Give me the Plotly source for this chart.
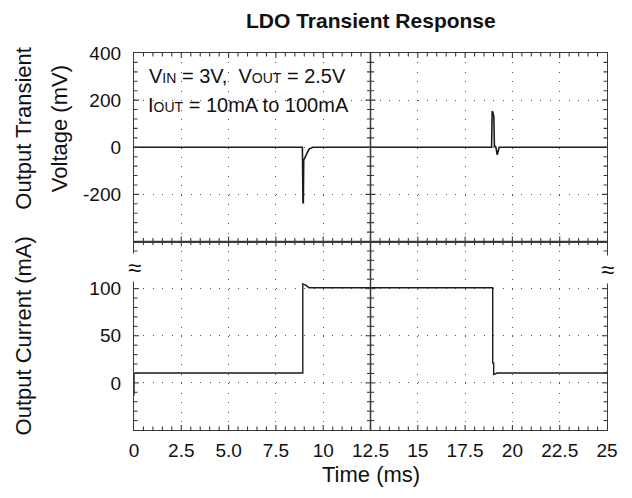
import plotly.graph_objects as go

# ---------------- data ----------------
t_volt = [0, 8.90, 8.93, 8.95, 8.97, 9.10, 9.25, 9.45, 18.90, 18.93, 18.96, 19.02, 19.05, 19.08, 19.13, 19.20, 19.30, 25]
v_out = [0, 0, -235, -235, -55, -30, -8, 0, 0, 153, 150, 130, 0, 6, 0, -32, 0, 0]

t_curr = [0, 0, 0.05, 8.92, 8.92, 9.05, 9.25, 18.96, 18.96, 19.01, 19.01, 19.2, 25, 25]
i_out = [-13, 9, 10.5, 10.5, 105, 104, 101, 101, 21, 21, 9, 10.5, 10.5, 12]

x_tickvals = [0, 2.5, 5, 7.5, 10, 12.5, 15, 17.5, 20, 22.5, 25]
x_ticktext = ["0", "2.5", "5.0", "7.5", "10", "12.5", "15", "17.5", "20", "22.5", "25"]
v_tickvals = [400, 200, 0, -200]
v_ticktext = ["400", "200", "0", "-200"]
i_tickvals = [100, 50, 0]
i_ticktext = ["100", "50", "0"]

V_RANGE = [-400, 400]
I_RANGE = [-50, 150]
X_RANGE = [0, 25]

FONT = "Liberation Sans, Arial, sans-serif"
TRACE = "#1a1a1a"
FRAME = "#3a3a3a"
GRID = "#555555"

fig = go.Figure()
fig.add_trace(go.Scatter(x=t_volt, y=v_out, mode="lines", xaxis="x2", yaxis="y2",
                         line=dict(color=TRACE, width=1.6), hoverinfo="skip", showlegend=False))
fig.add_trace(go.Scatter(x=t_curr, y=i_out, mode="lines", xaxis="x", yaxis="y",
                         line=dict(color=TRACE, width=1.4), hoverinfo="skip", showlegend=False))

grid_common = dict(showgrid=True, gridcolor=GRID, gridwidth=1, griddash="1px,8.45px",
                   zeroline=False, showline=True, linecolor=FRAME, linewidth=1.3, mirror=True,
                   automargin=False,
                   ticks="", tickfont=dict(family=FONT, size=19, color="#111"))

# page body has an 8px margin: figure sized to fit inside the 632x498 window
fig.update_layout(
    width=616, height=482, autosize=False,
    margin=dict(l=126, r=17, t=45, b=60),
    plot_bgcolor="white", paper_bgcolor="white",
    font=dict(family=FONT, color="#111"),
    xaxis=dict(domain=[0, 1], anchor="y", range=X_RANGE, tickvals=x_tickvals, ticktext=x_ticktext,
               ticklabelstandoff=3, **grid_common),
    xaxis2=dict(domain=[0, 1], anchor="y2", range=X_RANGE, matches="x", tickvals=x_tickvals,
                showticklabels=False, **grid_common),
    yaxis=dict(domain=[0, 0.5], anchor="x", range=I_RANGE, tickvals=i_tickvals, ticktext=i_ticktext,
               ticklabelstandoff=8, **grid_common),
    yaxis2=dict(domain=[0.5, 1], anchor="x2", range=V_RANGE, tickvals=v_tickvals, ticktext=v_ticktext,
                ticklabelstandoff=8, **grid_common),
)

# ---------------- oscilloscope-style tick marks ----------------
shapes = []
tick_line = dict(color=FRAME, width=1.1)
shapes.append(dict(type="line", xref="x", yref="paper", x0=12.5, x1=12.5, y0=0, y1=1,
                   line=dict(color=FRAME, width=1.5)))
shapes.append(dict(type="line", xref="paper", yref="paper", x0=0, x1=1, y0=0.5, y1=0.5,
                   line=dict(color=FRAME, width=1.5)))
n_x = 50
for k in range(1, n_x):
    t = X_RANGE[0] + k * (X_RANGE[1] - X_RANGE[0]) / n_x
    L = 5 if k % 5 == 0 else 3.5
    shapes.append(dict(type="line", xref="x", yref="paper", ysizemode="pixel", yanchor=1,
                       x0=t, x1=t, y0=-L, y1=0, line=tick_line))
    shapes.append(dict(type="line", xref="x", yref="paper", ysizemode="pixel", yanchor=0,
                       x0=t, x1=t, y0=0, y1=L, line=tick_line))
    shapes.append(dict(type="line", xref="x", yref="paper", ysizemode="pixel", yanchor=0.5,
                       x0=t, x1=t, y0=-L, y1=L, line=tick_line))
for yref, rng in (("y2", V_RANGE), ("y", I_RANGE)):
    for k in range(1, 20):
        yv = rng[0] + k * (rng[1] - rng[0]) / 20
        L = 5 if k % 5 == 0 else 3.5
        shapes.append(dict(type="line", xref="paper", yref=yref, xsizemode="pixel", xanchor=0,
                           x0=0, x1=L, y0=yv, y1=yv, line=tick_line))
        shapes.append(dict(type="line", xref="paper", yref=yref, xsizemode="pixel", xanchor=1,
                           x0=-L, x1=0, y0=yv, y1=yv, line=tick_line))
        shapes.append(dict(type="line", xref="x", yref=yref, xsizemode="pixel", xanchor=12.5,
                           x0=-L, x1=L, y0=yv, y1=yv, line=tick_line))
fig.update_layout(shapes=shapes)

# ---------------- text ----------------
def ann(text, x, y, size, **kw):
    d = dict(text=text, x=x, y=y, xref="paper", yref="paper", showarrow=False,
             font=dict(family=FONT, size=size, color="#111"))
    d.update(kw)
    fig.add_annotation(**d)

sub = '<span style="font-size:14px">{}</span>'
ann("<b>LDO Transient Response</b>", 0.5, 1.0875, 21, xanchor="center", yanchor="middle")
ann("V" + sub.format("IN") + " = 3V,  V" + sub.format("OUT") + " = 2.5V", 0.027, 0.939, 20,
    xanchor="left", yanchor="middle")
ann("I" + sub.format("OUT") + " = 10mA to 100mA", 0.025, 0.863, 20, xanchor="left", yanchor="middle")
ann("Output Transient", -0.234, 0.80, 22, textangle=-90, xanchor="center", yanchor="middle")
ann("Voltage (mV)", -0.157, 0.80, 22, textangle=-90, xanchor="center", yanchor="middle")
ann("Output Current (mA)", -0.234, 0.249, 22, textangle=-90, xanchor="center", yanchor="middle")
ann("Time (ms)", 0.5, -0.117, 22, xanchor="center", yanchor="middle")
ann("≈", 0.0, 0.432, 24, xanchor="center", yanchor="middle", bgcolor="white", borderpad=0)
ann("≈", 1.0, 0.425, 24, xanchor="center", yanchor="middle", bgcolor="white", borderpad=0)

fig.write_html("out.html")
